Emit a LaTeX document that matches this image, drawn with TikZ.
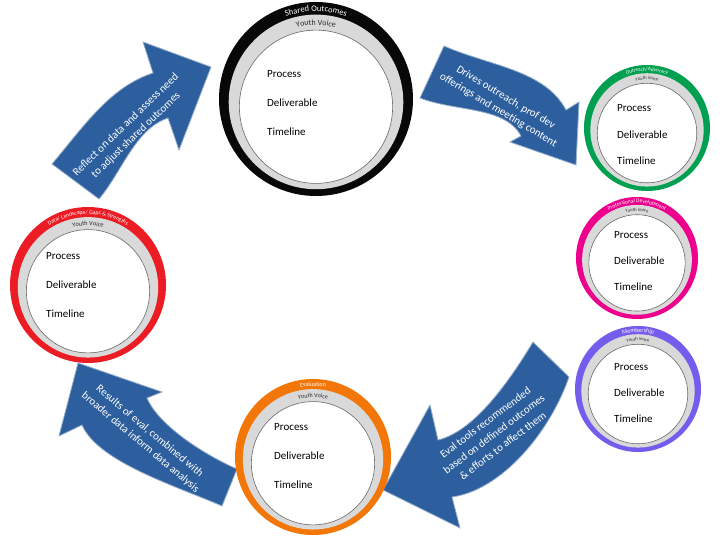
\documentclass[tikz,border=0pt]{standalone}
\usepackage{fontspec}
\setmainfont{Carlito}
\usetikzlibrary{calc,decorations.text}

\definecolor{ringgray}{RGB}{217,217,217}
\definecolor{ringline}{RGB}{105,105,105}
\definecolor{darktext}{RGB}{40,40,40}
\definecolor{arrowblue}{RGB}{45,95,158}
\definecolor{arrowedge}{RGB}{150,175,205}
\definecolor{sharedblack}{RGB}{8,8,8}
\definecolor{outreachgreen}{RGB}{0,160,80}
\definecolor{profpink}{RGB}{236,0,140}
\definecolor{memberpurple}{RGB}{118,92,236}
\definecolor{evalorange}{RGB}{242,118,8}
\definecolor{datared}{RGB}{236,28,36}

\tikzset{
  item/.style={anchor=west, inner sep=0pt, font=\fontsize{11}{13}\selectfont},
  arrowtext/.style={text=white, align=center, inner sep=0pt, font=\fontsize{11}{14.5}\selectfont},
  flowarrow/.style={fill=arrowblue, draw=arrowedge, line width=0.8pt, line join=miter},
}

% #1 name, #2 centre, #3 radius, #4 colour, #5 ring label, #6 label size,
% #7 youth voice size, #8 west point of "Process", #9 line step
\newcommand{\ringunit}[9]{%
  \coordinate (#1) at (#2);
  \fill[#4] (#1) circle[radius=#3];
  \fill[ringgray] ($(#1)+(0,0.03*#3)$) circle[radius=0.9*#3];
  \filldraw[fill=white, draw=ringline, line width=0.6pt] ($(#1)+(0,0.08*#3)$) circle[radius=0.79*#3];
  \path[decorate, decoration={text along path, text align=center,
      text={|\fontsize{#6}{#6}\selectfont\color{white}|#5}}]
    (#1) ++(200:{0.935*#3-0.35*#6}) arc[start angle=200, end angle=340, radius={0.935*#3-0.35*#6}];
  \path[decorate, decoration={text along path, text align=center,
      text={|\fontsize{#7}{#7}\selectfont\color{darktext}|Youth Voice}}]
    (#1) ++(200:{0.79*#3-0.35*#7}) arc[start angle=200, end angle=340, radius={0.79*#3-0.35*#7}];
  \node[item] (#1-p) at (#8) {Process};
  \node[item] (#1-d) at ($(#8)+(0,#9)$) {Deliverable};
  \node[item] (#1-t) at ($(#8)+(0,2*#9)$) {Timeline};
}

\begin{document}
\begin{tikzpicture}[x=1pt, y=-1pt]
  \useasboundingbox[fill=white] (0,0) rectangle (720,540);

  % Reflect arrow: data -> shared outcomes
  \fill[flowarrow] (52,164) .. controls (84,126) and (110,87) .. (153,73) -- (143,42) -- (211,67)
    -- (179,150) -- (168,118) .. controls (135,129) and (122,172) .. (99,199) -- cycle;
  \node[arrowtext, rotate=44] (reflect) at (131,130) {Reflect on data and assess need\\to adjust shared outcomes};

  % Drives arrow: shared outcomes -> outreach
  \fill[flowarrow] (444,46) .. controls (490,66) and (545,70) .. (566,110) -- (579,102) -- (576,165)
    -- (510,142) -- (521,136) .. controls (505,106) and (456,112) .. (420,98) -- cycle;
  \node[arrowtext, rotate=-31] (drives) at (502,104) {Drives outreach, prof dev\\offerings and meeting content};

  % Eval tools arrow: membership -> evaluation
  \fill[flowarrow] (533,342) .. controls (510,380) and (475,431) .. (438,440) -- (430,405) -- (383,490)
    -- (460,528) -- (452,497) .. controls (502,490) and (550,432) .. (569,377) -- cycle;
  \node[arrowtext, rotate=37] (evaltools) at (494,434) {Eval tools recommended\\based on defined outcomes\\\& efforts to affect them};

  % Results arrow: evaluation -> data
  \fill[flowarrow] (237,469) .. controls (205,455) and (159,426) .. (147,398) -- (162,392) -- (78,363)
    -- (59,436) -- (82,425) .. controls (98,462) and (176,486) .. (222,506) -- cycle;
  \node[arrowtext, rotate=-40] (results) at (145,437) {Results of eval, combined with\\broader data inform data analysis};

  % Rings
  \ringunit{shared}{316,99}{97}{sharedblack}{Shared Outcomes}{8.5}{8}{267,74}{29}
  \ringunit{outreach}{647,128}{63}{outreachgreen}{Outreach/Advocacy}{5.2}{4.6}{617,108}{26.5}
  \ringunit{profdev}{637,258}{61}{profpink}{Professional Development}{5.5}{4.6}{614,235}{26}
  \ringunit{member}{638,389}{63}{memberpurple}{Membership}{6}{4.6}{614,367}{26}
  \ringunit{eval}{313,457}{78}{evalorange}{Evaluation}{6}{6}{274,427}{29}
  \ringunit{data}{88,285}{78}{datared}{Data/ Landscape/ Gaps {\&} Strengths}{5.7}{6.3}{46,256}{29}
\end{tikzpicture}
\end{document}
